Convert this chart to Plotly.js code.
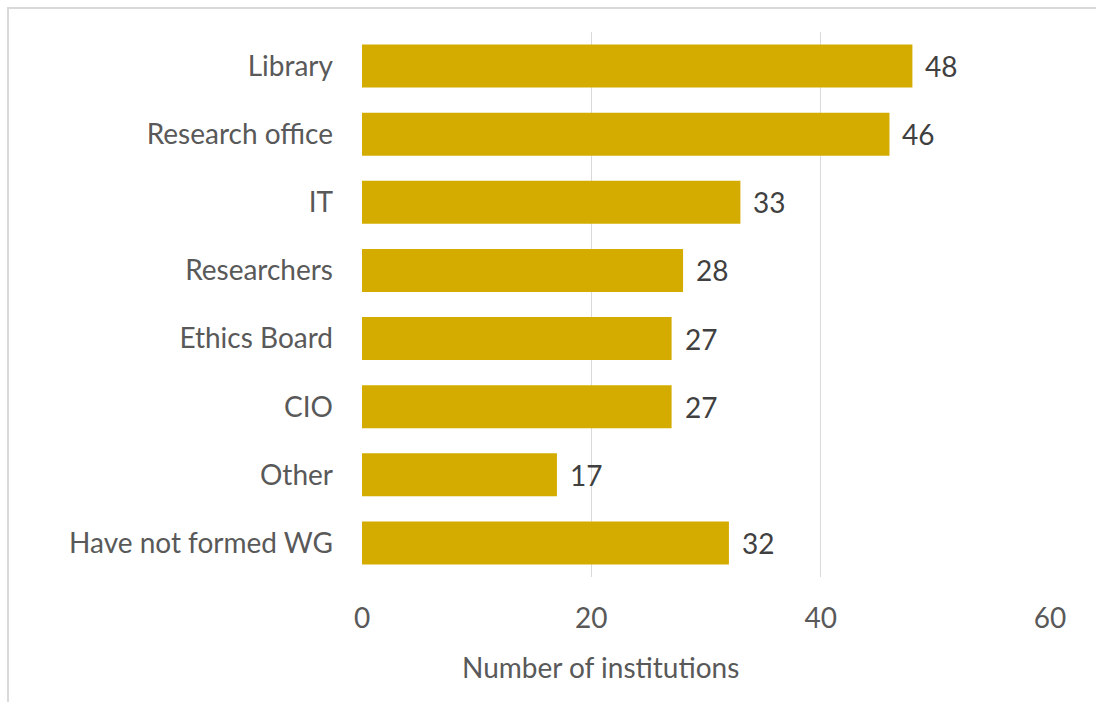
<!DOCTYPE html>
<html>
<head>
<meta charset="utf-8">
<script src="https://cdn.plot.ly/plotly-3.0.1.min.js"></script>
<style>
  html, body { margin: 0; padding: 0; background: #ffffff; }
  #wrap { position: relative; width: 1096px; height: 702px; overflow: hidden; }
  #chart { position: absolute; left: 0; top: 0; width: 1096px; height: 702px; }
  #frame { position: absolute; left: 7px; top: 7px; right: 0; bottom: 0;
           border-top: 2px solid #d9d9d9; border-left: 2px solid #d9d9d9; pointer-events: none; }
</style>
</head>
<body>
<div id="wrap">
  <div id="chart"></div>
  <div id="frame"></div>
</div>
<script>
const categories = ["Library", "Research office", "IT", "Researchers", "Ethics Board", "CIO", "Other", "Have not formed WG"];
const counts = [48, 46, 33, 28, 27, 27, 17, 32];
const xTickValues = [0, 20, 40, 60];
const xTitle = "Number of institutions";

const FONT = "Lato, sans-serif";
const FS = 28;
const barColor = "#D4AC00";

const trace = {
  type: "bar",
  orientation: "h",
  x: counts,
  y: categories,
  marker: { color: barColor },
  width: 0.63,
  hoverinfo: "x+y"
};

const annotations = categories.map((c, i) => ({
  x: counts[i], y: c, xref: "x", yref: "y",
  text: String(counts[i]), showarrow: false,
  xanchor: "left", yanchor: "middle", xshift: 11,
  font: { family: FONT, size: FS, color: "#404040" }
}));

// x-axis title (offset left of the plot centre, as in the original)
annotations.push({
  text: xTitle, xref: "paper", yref: "paper", x: 0.347, y: 0,
  xanchor: "center", yanchor: "middle", yshift: -90, showarrow: false,
  font: { family: FONT, size: FS, color: "#595959" }
});

const layout = {
  width: 1096, height: 702,
  margin: { l: 362, r: 46, t: 32, b: 125, pad: 0 },
  paper_bgcolor: "rgba(0,0,0,0)",
  plot_bgcolor: "rgba(0,0,0,0)",
  showlegend: false,
  bargap: 0.37,
  xaxis: {
    range: [0, 60],
    tickvals: xTickValues,
    ticktext: xTickValues.map(String),
    showgrid: true, gridcolor: "#d9d9d9", gridwidth: 1.5,
    zeroline: false, showline: false, ticks: "",
    ticklabelstandoff: 22,
    tickfont: { family: FONT, size: FS, color: "#595959" },
    fixedrange: true
  },
  yaxis: {
    type: "category",
    categoryorder: "array",
    categoryarray: categories.slice().reverse(),
    autorange: true,
    showgrid: false, zeroline: false, showline: false, ticks: "",
    ticklabelstandoff: 28,
    tickfont: { family: FONT, size: FS, color: "#595959" },
    fixedrange: true
  },
  annotations: annotations
};

Plotly.newPlot("chart", [trace], layout, { displayModeBar: false, staticPlot: true });
</script>
</body>
</html>
